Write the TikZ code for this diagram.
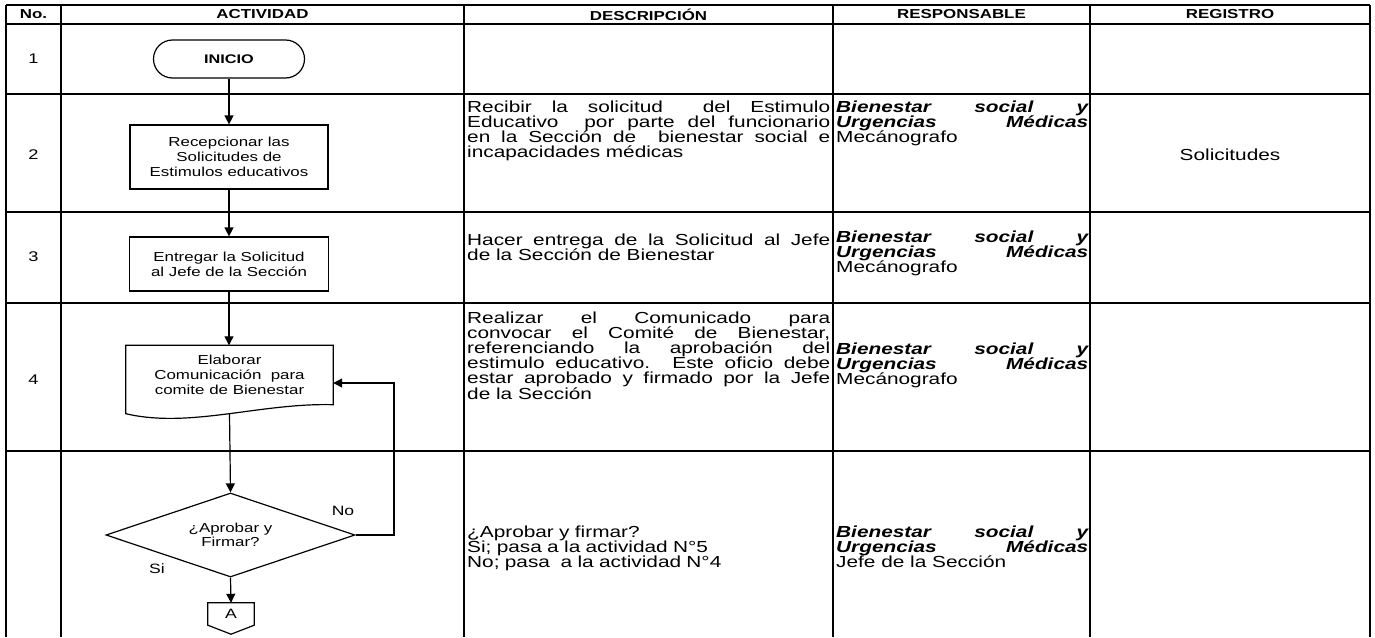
\documentclass[tikz,border=0pt]{standalone}
\usepackage{fontspec}
\setmainfont{Liberation Sans}[FakeStretch=1.3]
\usetikzlibrary{arrows.meta,shapes.geometric,calc}

\begin{document}
\begin{tikzpicture}[x=1pt,y=-1pt,
  grid/.style={line width=1.8pt},
  flow/.style={line width=1.2pt},
  arr/.style={flow,-{Triangle[length=9pt,width=9pt]}},
  hdr/.style={font=\fontsize{13}{14}\selectfont\bfseries,inner sep=0pt},
  num/.style={font=\fontsize{14}{15}\selectfont,inner sep=0pt},
  procbox/.style={draw,line width=1.2pt,align=center,font=\fontsize{13}{15}\selectfont,inner sep=0pt},
  desc/.style={anchor=base west,inner sep=0pt,text width=363pt,align=justify,font=\fontsize{16}{15.2}\selectfont},
  descl/.style={anchor=base west,inner sep=0pt,text width=363pt,align=left,font=\fontsize{16}{15.2}\selectfont},
  resp/.style={anchor=base west,inner sep=0pt,text width=252pt,align=justify,font=\fontsize{16}{15.2}\selectfont},
  lbl/.style={font=\fontsize{13.5}{14}\selectfont,inner sep=0pt},
]
\useasboundingbox (0,0) rectangle (1375,637);
\fill[white] (0,0) rectangle (1375,637);

% table grid
\foreach \x in {6,61,464,833,1090,1370} \draw[grid] (\x,5) -- (\x,637);
\foreach \y in {5,24,94,212,303,451} \draw[grid] (6,\y) -- (1370,\y);

% headers
\node[hdr] (hno) at (33.5,14.5) {No.};
\node[hdr] (hact) at (262.5,14.5) {ACTIVIDAD};
\node[hdr] (hdes) at (648.5,14.5) {DESCRIPCIÓN};
\node[hdr] (hres) at (961.5,14.5) {RESPONSABLE};
\node[hdr] (hreg) at (1230,14.5) {REGISTRO};

% row numbers
\node[num] (n1) at (33.5,59) {1};
\node[num] (n2) at (33.5,155) {2};
\node[num] (n3) at (33.5,257) {3};
\node[num] (n4) at (33.5,380) {4};

% flowchart
\node[draw,line width=1.2pt,rounded corners=19pt,minimum width=151pt,minimum height=38pt,
      font=\fontsize{12.5}{13}\selectfont\bfseries] (ini) at (229,59) {INICIO};
\node[procbox,minimum width=198pt,minimum height=64pt] (b2) at (229,157)
  {Recepcionar las\\Solicitudes de\\Estimulos educativos};
\node[procbox,minimum width=199pt,minimum height=54pt] (b3) at (229,264)
  {Entregar la Solicitud\\al Jefe de la Sección};
\node[align=center,font=\fontsize{13}{15}\selectfont,inner sep=0pt,minimum width=207pt,minimum height=59pt] (doc) at (229.5,375)
  {Elaborar\\Comunicación\ \ para\\comite de Bienestar};
\coordinate (docb) at ($(doc.south)+(0,9)$);
\draw[flow] (doc.north west) -- (doc.north east) -- (doc.south east)
  .. controls ($(doc.south east)+(-73,-2)$) and ($(doc.south west)+(64,24)$) .. ($(doc.south west)+(0,9)$)
  -- cycle;
\node[draw,line width=1.2pt,shape=diamond,aspect=3,inner sep=0pt,minimum width=249pt,minimum height=84pt,
      align=center,font=\fontsize{13}{13.5}\selectfont] (dia) at (230.5,535) {¿Aprobar y\\Firmar?};
\node[inner sep=0pt,minimum width=46pt,minimum height=22pt,font=\fontsize{13.5}{14}\selectfont] (A) at (231,614) {A};
\draw[flow] (A.north west) -- (A.north east) -- (A.south east) -- ($(A.south)+(0,9)$) -- (A.south west) -- cycle;

\coordinate (lb) at (394,383);
\draw[arr] (ini.south) -- (ini.south |- b2.north);
\draw[arr] (b2.south) -- (b2.south |- b3.north);
\draw[arr] (b3.south) -- (b3.south |- doc.north);
\draw[arr] (docb) -- (dia.north);
\draw[arr] (dia.south) -- (A.north);
\draw[arr] (dia.east) -- (dia.east -| lb) -- (lb) -- (lb -| doc.east);
\node[lbl] (lno) at (343,511) {No};
\node[lbl] (lsi) at (157,569) {Si};

% descriptions
\node[desc] (d2) at (467,112) {Recibir la solicitud\ \ del Estimulo\linebreak Educativo\ \ por parte del funcionario\linebreak en la Sección de\ \ bienestar social e\linebreak incapacidades médicas};
\node[desc] (d3) at (467,245) {Hacer entrega de la Solicitud al Jefe\linebreak de la Sección de Bienestar};
\node[desc] (d4) at (467,323) {Realizar el Comunicado para\linebreak convocar el Comité de Bienestar,\linebreak referenciando la aprobación del\linebreak estimulo educativo. Este oficio debe\linebreak estar aprobado y firmado por la Jefe\linebreak de la Sección};
\node[descl] (d5) at (467,537) {¿Aprobar y firmar?\\Si; pasa a la actividad N°5\\No; pasa\ \ a la actividad N°4};

% responsables
\node[resp] (r2) at (836,112) {\bfseries\itshape Bienestar social y\linebreak Urgencias Médicas\linebreak \normalfont Mecánografo};
\node[resp] (r3) at (836,242) {\bfseries\itshape Bienestar social y\linebreak Urgencias Médicas\linebreak \normalfont Mecánografo};
\node[resp] (r4) at (836,354) {\bfseries\itshape Bienestar social y\linebreak Urgencias Médicas\linebreak \normalfont Mecánografo};
\node[resp] (r5) at (836,537) {\bfseries\itshape Bienestar social y\linebreak Urgencias Médicas\linebreak \normalfont Jefe de la Sección};

% registro
\node[font=\fontsize{16}{15}\selectfont,inner sep=0pt] (g2) at (1230,155) {Solicitudes};
\end{tikzpicture}
\end{document}
